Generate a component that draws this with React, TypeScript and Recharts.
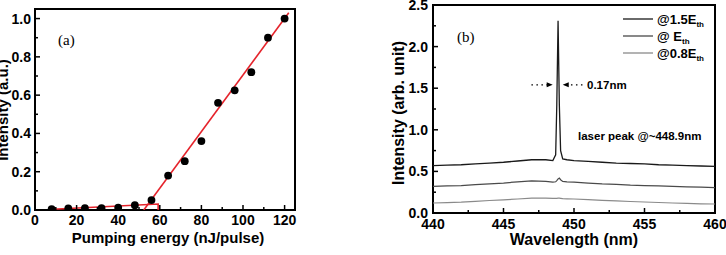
import { ComposedChart, Line, ReferenceArea, ReferenceLine, Scatter, XAxis, YAxis } from 'recharts'

// panel (a): lasing threshold
const pumpEnergy = [8, 16, 24, 32, 40, 48, 56, 64, 72, 80, 88, 96, 104, 112, 120]
const pumpIntensity = [0.005, 0.009, 0.01, 0.01, 0.012, 0.025, 0.052, 0.18, 0.255, 0.36, 0.56, 0.625, 0.72, 0.9, 1.0]
const fitHighX = [52.3, 122]
const fitHighY = [0, 1.03]
const fitLowX = [8.5, 59.2, 59.2]
const fitLowY = [0.004, 0.031, 0]
const ticksAX = [0, 10, 20, 30, 40, 50, 60, 70, 80, 90, 100, 110, 120]
const ticksAY = [0, 0.1, 0.2, 0.3, 0.4, 0.5, 0.6, 0.7, 0.8, 0.9, 1.0]

// panel (b): spectra
const wavelength = [440, 441, 442, 443, 444, 445, 446, 447, 448, 448.5, 448.7, 448.78, 448.87, 448.96, 449.05, 449.2, 449.5, 450, 451, 452, 453, 454, 455, 456, 457, 458, 459, 460]
const spec15 = [0.57, 0.575, 0.58, 0.59, 0.6, 0.61, 0.625, 0.64, 0.64, 0.63, 0.7, 1.3, 2.31, 1.3, 0.75, 0.65, 0.64, 0.63, 0.62, 0.61, 0.6, 0.595, 0.59, 0.58, 0.575, 0.57, 0.565, 0.56]
const spec10 = [0.32, 0.325, 0.33, 0.34, 0.35, 0.36, 0.375, 0.385, 0.38, 0.37, 0.375, 0.39, 0.41, 0.42, 0.4, 0.38, 0.375, 0.37, 0.36, 0.35, 0.345, 0.335, 0.33, 0.325, 0.32, 0.315, 0.31, 0.305]
const spec08 = [0.12, 0.125, 0.13, 0.14, 0.15, 0.158, 0.168, 0.178, 0.178, 0.175, 0.175, 0.176, 0.178, 0.178, 0.176, 0.172, 0.17, 0.168, 0.16, 0.152, 0.145, 0.138, 0.132, 0.126, 0.12, 0.115, 0.11, 0.108]
const ticksBX = [440, 442.5, 445, 447.5, 450, 452.5, 455, 457.5, 460]
const ticksBY = [0, 0.25, 0.5, 0.75, 1.0, 1.25, 1.5, 1.75, 2.0, 2.25, 2.5]
const fwhmLeft = [446.98, 448.49]
const fwhmRight = [450.6, 449.2]
const fwhmY = 1.54

const FONT = '"Liberation Sans", Arial, sans-serif'
const RED = '#e5232b'

const toPoints = (xs: number[], ys: number[]) => xs.map((x, i) => ({ x, y: ys[i] }))

const isMajor = (v: number, step: number) => Math.abs(v / step - Math.round(v / step)) < 1e-6

const xTick = (step: number, size: number, fmt: (v: number) => string, dy: number) => (props: any) => {
  const { x, y, payload } = props
  const major = isMajor(payload.value, step)
  return (
    <g>
      <line x1={x} y1={y} x2={x} y2={y - (major ? 5 : 3)} stroke="#000" strokeWidth={1.5} />
      {major && (
        <text x={x} y={y + dy} textAnchor="middle" fontFamily={FONT} fontWeight="bold" fontSize={size} fill="#000">
          {fmt(payload.value)}
        </text>
      )}
    </g>
  )
}

const yTick = (step: number, size: number, gap: number) => (props: any) => {
  const { x, y, payload } = props
  const major = isMajor(payload.value, step)
  return (
    <g>
      <line x1={x} y1={y} x2={x + (major ? 5 : 3)} y2={y} stroke="#000" strokeWidth={1.5} />
      {major && (
        <text x={x - gap} y={y + size * 0.36} textAnchor="end" fontFamily={FONT} fontWeight="bold" fontSize={size} fill="#000">
          {payload.value.toFixed(1)}
        </text>
      )}
    </g>
  )
}

const arrowShape = (props: any) => {
  const { x1, y1, x2, y2 } = props
  const dir = x2 > x1 ? 1 : -1
  return (
    <g>
      <line x1={x1} y1={y1} x2={x2 - dir * 4} y2={y2} stroke="#000" strokeWidth={1.2} strokeDasharray="1.5 3.5" />
      <path d={`M${x2},${y2} L${x2 - dir * 6},${y2 - 2.5} L${x2 - dir * 6},${y2 + 2.5} Z`} fill="#000" />
    </g>
  )
}

const PanelA = () => (
  <ComposedChart width={300} height={255} margin={{ top: 9, right: 5, bottom: 44, left: 34 }}>
    <XAxis
      type="number"
      dataKey="x"
      domain={[0, 125]}
      ticks={ticksAX}
      interval={0}
      height={1}
      tickSize={0}
      tickMargin={0}
      axisLine={false}
      tickLine={false}
      allowDataOverflow
      tick={xTick(20, 14, (v) => String(v), 15)}
    />
    <YAxis
      type="number"
      dataKey="y"
      domain={[0, 1.05]}
      ticks={ticksAY}
      interval={0}
      width={1}
      tickSize={0}
      tickMargin={0}
      axisLine={false}
      tickLine={false}
      allowDataOverflow
      tick={yTick(0.2, 14, 4)}
    />
    <ReferenceArea x1={0} x2={125} y1={0} y2={1.05} fill="none" stroke="#000" strokeWidth={2} />
    <Line data={toPoints(fitLowX, fitLowY)} dataKey="y" type="linear" stroke={RED} strokeWidth={1.6} dot={false} isAnimationActive={false} />
    <Line data={toPoints(fitHighX, fitHighY)} dataKey="y" type="linear" stroke={RED} strokeWidth={1.6} dot={false} isAnimationActive={false} />
    <Scatter
      data={toPoints(pumpEnergy, pumpIntensity)}
      fill="#000"
      isAnimationActive={false}
      shape={(p: any) => <circle cx={p.cx} cy={p.cy} r={3.9} fill="#000" />}
    />
  </ComposedChart>
)

const PanelB = () => (
  <ComposedChart width={366} height={255} margin={{ top: 5, right: 11, bottom: 41, left: 72 }}>
    <XAxis
      type="number"
      dataKey="x"
      domain={[440, 460]}
      ticks={ticksBX}
      interval={0}
      height={1}
      tickSize={0}
      tickMargin={0}
      axisLine={false}
      tickLine={false}
      allowDataOverflow
      tick={xTick(5, 14, (v) => String(v), 16)}
    />
    <YAxis
      type="number"
      dataKey="y"
      domain={[0, 2.5]}
      ticks={ticksBY}
      interval={0}
      width={1}
      tickSize={0}
      tickMargin={0}
      axisLine={false}
      tickLine={false}
      allowDataOverflow
      tick={yTick(0.5, 14, 5)}
    />
    <ReferenceArea x1={440} x2={460} y1={0} y2={2.5} fill="none" stroke="#000" strokeWidth={2} />
    <Line data={toPoints(wavelength, spec08)} dataKey="y" type="linear" stroke="#8a8a8a" strokeWidth={1.2} dot={false} isAnimationActive={false} />
    <Line data={toPoints(wavelength, spec10)} dataKey="y" type="linear" stroke="#4a4a4a" strokeWidth={1.2} dot={false} isAnimationActive={false} />
    <Line data={toPoints(wavelength, spec15)} dataKey="y" type="linear" stroke="#1a1a1a" strokeWidth={1.3} dot={false} isAnimationActive={false} />
    <ReferenceLine segment={[{ x: fwhmLeft[0], y: fwhmY }, { x: fwhmLeft[1], y: fwhmY }]} shape={arrowShape} />
    <ReferenceLine segment={[{ x: fwhmRight[0], y: fwhmY }, { x: fwhmRight[1], y: fwhmY }]} shape={arrowShape} />
  </ComposedChart>
)

const legendItems = [
  { label: '@1.5E', color: '#1a1a1a' },
  { label: '@ E', color: '#4a4a4a' },
  { label: '@0.8E', color: '#8a8a8a' },
]

const bold = { fontFamily: FONT, fontWeight: 'bold' as const, fill: '#000' }

export default function App() {
  return (
    <div style={{ position: 'absolute', left: 0, top: 0, width: 726, height: 255, background: '#fff' }}>
      <div style={{ position: 'absolute', left: 0, top: 0 }}>
        <PanelA />
      </div>
      <div style={{ position: 'absolute', left: 360, top: 0 }}>
        <PanelB />
      </div>
      <svg width={726} height={255} style={{ position: 'absolute', left: 0, top: 0, pointerEvents: 'none' }}>
        <text x={58} y={45} fontFamily='"Liberation Serif", "Times New Roman", serif' fontSize={15} fill="#000">(a)</text>
        <text x={457} y={42} fontFamily='"Liberation Serif", "Times New Roman", serif' fontSize={15} fill="#000">(b)</text>
        <text x={168} y={243} textAnchor="middle" fontSize={15} {...bold}>Pumping energy (nJ/pulse)</text>
        <text transform="translate(8,110) rotate(-90)" textAnchor="middle" fontSize={15} {...bold}>Intensity (a.u.)</text>
        <text x={574} y={245} textAnchor="middle" fontSize={16} {...bold}>Wavelength (nm)</text>
        <text transform="translate(404,113) rotate(-90)" textAnchor="middle" fontSize={16} {...bold}>Intensity (arb. unit)</text>
        <text x={587} y={89} fontSize={11.5} {...bold}>0.17nm</text>
        <text x={578} y={140} fontSize={11.5} {...bold}>laser peak @~448.9nm</text>
        {legendItems.map((item, i) => (
          <g key={item.label}>
            <line x1={623} x2={653} y1={19 + i * 17} y2={19 + i * 17} stroke={item.color} strokeWidth={1.3} />
            <text x={657} y={24 + i * 17} fontSize={13} {...bold}>
              {item.label}
              <tspan fontSize={8} dy={3}>th</tspan>
            </text>
          </g>
        ))}
      </svg>
    </div>
  )
}
